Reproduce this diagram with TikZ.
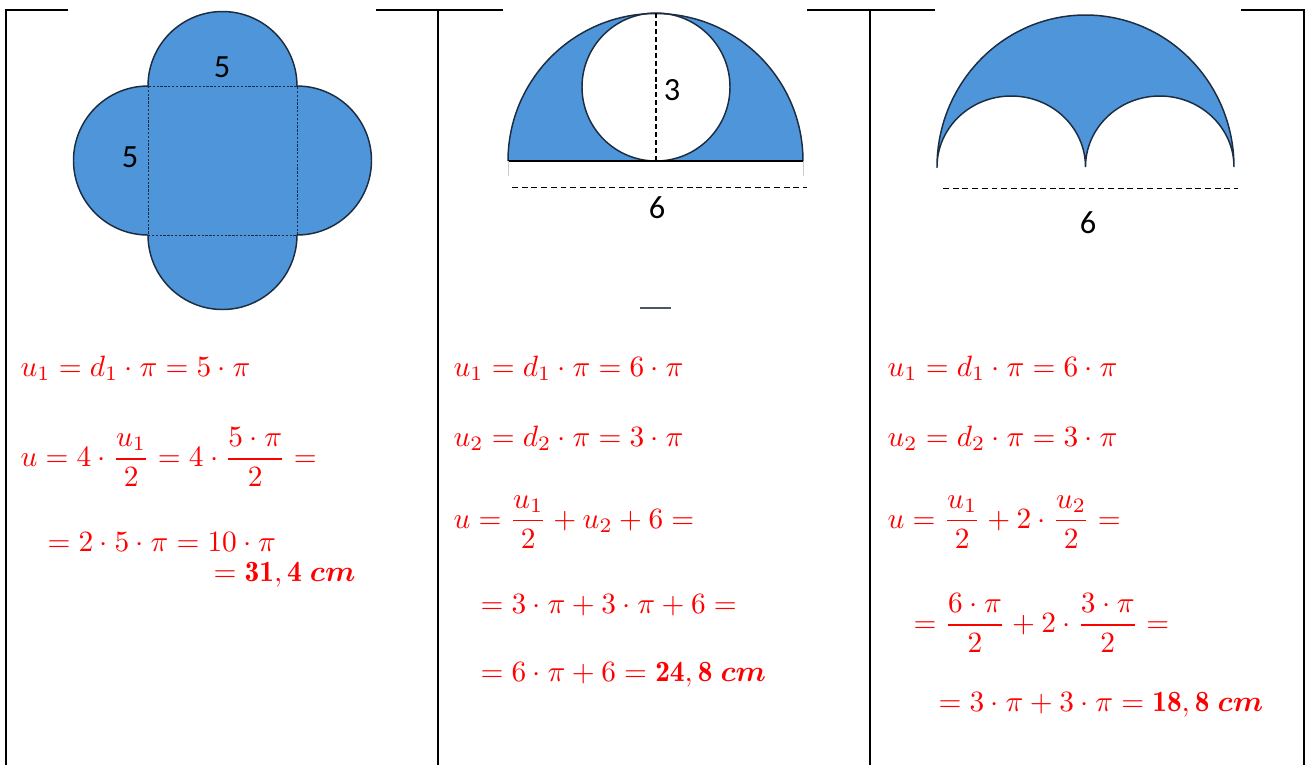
\documentclass[tikz,border=0pt]{standalone}
\usepackage{fontspec}
\usepackage{amsmath}
\usepackage{bm}
\newfontfamily\calibrifont{Carlito}
\usetikzlibrary{positioning}
\definecolor{shapeblue}{RGB}{79,149,217}
\definecolor{shapeline}{RGB}{28,45,66}
\tikzset{
	redmath/.style={anchor=west, inner sep=0pt, text=red, font=\normalsize}
}
\tikzset{
	figlabel/.style={inner sep=0pt, font=\calibrifont\fontsize{11}{13}\selectfont}
}
\tikzset{
	tablerule/.style={line width=1pt, black}
}
\begin{document}
\begin{tikzpicture}[x=0.34pt, y=0.34pt]
      \useasboundingbox (0,0) rectangle (1306,-765);
      % table lines
      \draw[tablerule] (6,-765) -- (6,-10) -- (68,-10);
      \draw[tablerule] (376,-10) -- (503,-10);
      \draw[tablerule] (807,-10) -- (935,-10);
      \draw[tablerule] (1241,-10) -- (1304,-10) -- (1304,-765);
      \draw[tablerule] (438,-10) -- (438,-765);
      \draw[tablerule] (870,-10) -- (870,-765);
      % square with four half circles
      \filldraw[fill=shapeblue, draw=shapeline, line width=0.5pt] (148,-86)
        arc[start angle=180, end angle=0, radius=74.5]
        arc[start angle=90, end angle=-90, radius=74.5]
        arc[start angle=0, end angle=-180, radius=74.5]
        arc[start angle=-90, end angle=-270, radius=74.5] -- cycle;
      \draw[shapeline, line width=0.3pt, dash pattern=on 0.8pt off 0.5pt] (148,-86) rectangle (297,-235);
      \node[figlabel] (topfive) at (222,-67) {5};
      \node[figlabel] (leftfive) at (130,-157) {5};
      % half circle with circle
      \fill[shapeblue] (508,-161) arc[start angle=180, end angle=0, radius=147.5] -- cycle;
      \filldraw[fill=white, draw=shapeline, line width=0.5pt] (656,-87) circle[radius=74];
      \draw[shapeline, line width=0.5pt] (508,-161) arc[start angle=180, end angle=0, radius=147.5];
      \draw[black, line width=0.8pt] (508,-161) -- (803,-161);
      \draw[gray!40, line width=0.3pt] (508,-161) -- (508,-176) (803,-161) -- (803,-176);
      \draw[black, line width=0.35pt, dash pattern=on 1.7pt off 1pt] (656,-13) -- (656,-161);
      \draw[black, line width=0.35pt, dash pattern=on 2pt off 1.3pt] (512,-187) -- (807,-187);
      \node[figlabel] (radthree) at (672,-90) {3};
      \node[figlabel] (basesix) at (657,-208) {6};
      \draw[shapeline!80, line width=0.9pt] (640,-308) -- (671,-308);
      % half circle minus two half circles
      \filldraw[fill=shapeblue, draw=shapeline, line width=0.5pt] (937,-167)
        arc[start angle=180, end angle=0, x radius=148.5, y radius=152]
        arc[start angle=0, end angle=180, x radius=74.25, y radius=71]
        arc[start angle=0, end angle=180, x radius=74.25, y radius=71] -- cycle;
      \draw[black, line width=0.35pt, dash pattern=on 2pt off 1.3pt] (943,-188) -- (1238,-188);
      \node[figlabel] (widthsix) at (1088,-223) {6};
      % first column
      \node[redmath] (fa) at (20,-368) {$u_1=d_1\cdot\pi=5\cdot\pi$};
      \node[redmath] (fb) at (20,-457) {$u=4\cdot\dfrac{u_1}{2}=4\cdot\dfrac{5\cdot\pi}{2}=$};
      \node[redmath] (fc) at (47,-542) {$=2\cdot5\cdot\pi=10\cdot\pi$};
      \node[redmath] (fd) at (213,-575) {$=\mathbf{31,4}\;\bm{cm}$};
      % second column
      \node[redmath] (sa) at (453,-368) {$u_1=d_1\cdot\pi=6\cdot\pi$};
      \node[redmath] (sb) at (453,-438) {$u_2=d_2\cdot\pi=3\cdot\pi$};
      \node[redmath] (sc) at (453,-522) {$u=\dfrac{u_1}{2}+u_2+6=$};
      \node[redmath] (sd) at (480,-605) {$=3\cdot\pi+3\cdot\pi+6=$};
      \node[redmath] (se) at (480,-675) {$=6\cdot\pi+6=\mathbf{24,8}\;\bm{cm}$};
      % third column
      \node[redmath] (ta) at (887,-368) {$u_1=d_1\cdot\pi=6\cdot\pi$};
      \node[redmath] (tb) at (887,-438) {$u_2=d_2\cdot\pi=3\cdot\pi$};
      \node[redmath] (tc) at (887,-522) {$u=\dfrac{u_1}{2}+2\cdot\dfrac{u_2}{2}=$};
      \node[redmath] (td) at (913,-623) {$=\dfrac{6\cdot\pi}{2}+2\cdot\dfrac{3\cdot\pi}{2}=$};
      \node[redmath] (te) at (938,-705) {$=3\cdot\pi+3\cdot\pi=\mathbf{18,8}\;\bm{cm}$};
    \end{tikzpicture}
\end{document}
